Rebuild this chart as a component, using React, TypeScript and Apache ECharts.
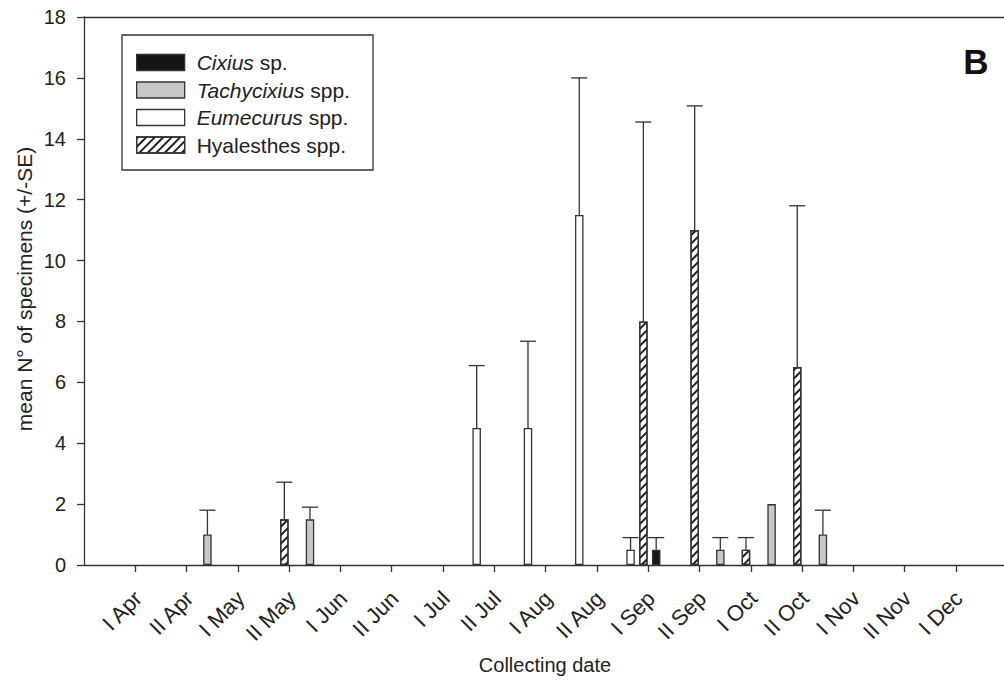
import React, { useEffect, useRef } from "react";
import * as echarts from "echarts";

const tickLabels = ["I Apr", "II Apr", "I May", "II May", "I Jun", "II Jun", "I Jul", "II Jul", "I Aug", "II Aug", "I Sep", "II Sep", "I Oct", "II Oct", "I Nov", "II Nov", "I Dec"];
const n = null;
// 16 bar groups, each lying between two ticks (group g between tick g and tick g+1)
const cixiusMean = [n, n, n, n, n, n, n, n, n, n, n, 0.5, n, n, n, n];
const cixiusSE = [n, n, n, n, n, n, n, n, n, n, n, 0.4, n, n, n, n];
const tachyMean = [n, n, 1.0, n, 1.5, n, n, n, n, n, n, n, 0.5, 2.0, 1.0, n];
const tachySE = [n, n, 0.8, n, 0.4, n, n, n, n, n, n, n, 0.4, 0, 0.8, n];
const eumecMean = [n, n, n, n, n, n, n, 4.5, 4.5, 11.5, 0.5, n, n, n, n, n];
const eumecSE = [n, n, n, n, n, n, n, 2.05, 2.85, 4.5, 0.4, n, n, n, n, n];
const hyalMean = [n, n, n, 1.5, n, n, n, n, n, n, 8.0, 11.0, 0.5, 6.5, n, n];
const hyalSE = [n, n, n, 1.22, n, n, n, n, n, n, 6.55, 4.08, 0.4, 5.3, n, n];
const speciesNames = ["Cixius sp.", "Tachycixius spp.", "Eumecurus spp.", "Hyalesthes spp."];

const FONT = "'Liberation Sans', Arial, sans-serif";
const INK = "#222";
const LINE = "#333";
const UNIT = 51.29; // px per tick interval
const X_MAX = 920 / UNIT;

export default function App() {
  const ref = useRef<HTMLDivElement>(null);
  useEffect(() => {
    if (!ref.current) return;
    const chart = echarts.init(ref.current, undefined, { renderer: "svg" });
    const groups = cixiusMean.length;
    const slots: string[] = [];
    for (let i = 0; i < groups * 4; i++) slots.push("s" + i);
    const means = [cixiusMean, tachyMean, eumecMean, hyalMean];
    const ses = [cixiusSE, tachySE, eumecSE, hyalSE];
    const styles: any[] = [
      { color: "#151515", borderColor: LINE, borderWidth: 1.3 },
      { color: "#c8c8c8", borderColor: LINE, borderWidth: 1.3 },
      { color: "#ffffff", borderColor: LINE, borderWidth: 1.3 },
      {
        color: "#ffffff",
        borderColor: LINE,
        borderWidth: 1.3,
        decal: {
          symbol: "rect",
          symbolSize: 1,
          dashArrayX: [[1, 0]],
          dashArrayY: [1.4, 3.6],
          rotation: -Math.PI / 4,
          color: "#222",
          backgroundColor: "#ffffff",
        },
      },
    ];
    const barSeries = means.map((m, si) => {
      const data: (number | null)[] = new Array(groups * 4).fill(null);
      m.forEach((v, g) => {
        if (v != null) data[g * 4 + si] = v;
      });
      return {
        type: "bar",
        name: speciesNames[si],
        xAxisIndex: 2,
        yAxisIndex: 1,
        data,
        barWidth: 8.5,
        barGap: "-100%",
        itemStyle: styles[si],
        emphasis: { disabled: true },
      };
    });
    const errData: number[][] = [];
    means.forEach((m, si) => {
      m.forEach((v, g) => {
        const se = ses[si][g];
        if (v != null && se != null && se > 0) errData.push([g * 4 + si, v, v + se]);
      });
    });
    const errSeries = {
      type: "custom",
      xAxisIndex: 2,
      yAxisIndex: 1,
      z: 5,
      encode: { x: 0, y: 1 },
      data: errData,
      renderItem: (params: any, api: any) => {
        const b = api.coord([api.value(0), api.value(1)]);
        const t = api.coord([api.value(0), api.value(2)]);
        const st = { stroke: LINE, lineWidth: 1.3 };
        return {
          type: "group",
          children: [
            { type: "line", shape: { x1: b[0], y1: b[1], x2: b[0], y2: t[1] }, style: st },
            { type: "line", shape: { x1: b[0] - 8, y1: t[1], x2: b[0] + 8, y2: t[1] }, style: st },
          ],
        };
      },
    };
    const option: any = {
      animation: false,
      textStyle: { fontFamily: FONT },
      grid: [
        { left: 84, top: 17, width: 920, height: 548 },
        { left: 85.6, top: 17, width: groups * UNIT, height: 548 },
      ],
      xAxis: [
        {
          type: "value",
          gridIndex: 0,
          min: 0,
          max: X_MAX,
          interval: 1,
          position: "bottom",
          axisLine: { show: true, lineStyle: { color: LINE, width: 1.3 } },
          axisTick: { show: true, length: 7, lineStyle: { color: LINE, width: 1.3 } },
          axisLabel: {
            rotate: 45,
            margin: 17,
            align: "right",
            verticalAlign: "top",
            padding: [0, 7, 0, 0],
            fontSize: 22,
            color: INK,
            fontFamily: FONT,
            showMinLabel: false,
            showMaxLabel: false,
            formatter: (v: number) => (Number.isInteger(v) ? tickLabels[v - 1] ?? "" : ""),
          },
          splitLine: { show: false },
        },
        {
          type: "value",
          gridIndex: 0,
          min: 0,
          max: X_MAX,
          position: "top",
          axisLine: { show: true, lineStyle: { color: LINE, width: 1.3 } },
          axisTick: { show: false },
          axisLabel: { show: false },
          splitLine: { show: false },
        },
        {
          type: "category",
          gridIndex: 1,
          data: slots,
          show: false,
        },
      ],
      yAxis: [
        {
          type: "value",
          gridIndex: 0,
          min: 0,
          max: 18,
          interval: 2,
          axisLine: { show: true, lineStyle: { color: LINE, width: 1.3 } },
          axisTick: { show: true, length: 7, lineStyle: { color: LINE, width: 1.3 } },
          axisLabel: { fontSize: 20, color: INK, margin: 18, fontFamily: FONT },
          splitLine: { show: false },
        },
        { type: "value", gridIndex: 1, min: 0, max: 18, show: false },
      ],
      legend: {
        data: speciesNames,
        orient: "vertical",
        left: 136,
        top: 52,
        padding: 0,
        itemWidth: 48,
        itemHeight: 16,
        itemGap: 6.5,
        icon: "rect",
        selectedMode: false,
        itemStyle: { borderColor: "inherit", borderWidth: 1.3 },
        textStyle: {
          fontSize: 21,
          color: INK,
          fontFamily: FONT,
          padding: [0, 0, 0, 7],
          rich: { i: { fontSize: 21, fontStyle: "italic", color: INK, fontFamily: FONT } },
        },
        formatter: (name: string) => {
          if (name.startsWith("Hyalesthes")) return name;
          const parts = name.split(" ");
          return "{i|" + parts[0] + "} " + parts.slice(1).join(" ");
        },
      },
      graphic: [
        {
          type: "rect",
          shape: { x: 122, y: 35, width: 251, height: 135 },
          style: { fill: "none", stroke: LINE, lineWidth: 1.3 },
          z: 10,
        },
        {
          type: "text",
          x: 24,
          y: 289,
          rotation: Math.PI / 2,
          style: {
            text: "mean N° of specimens (+/-SE)",
            fontSize: 21,
            fontFamily: FONT,
            fill: INK,
            align: "center",
            verticalAlign: "middle",
          },
        },
        {
          type: "text",
          x: 545,
          y: 665,
          style: {
            text: "Collecting date",
            fontSize: 20,
            fontFamily: FONT,
            fill: INK,
            align: "center",
            verticalAlign: "middle",
          },
        },
        {
          type: "text",
          x: 976,
          y: 61,
          style: {
            text: "B",
            fontSize: 35,
            fontWeight: "bold",
            fontFamily: FONT,
            fill: "#111",
            align: "center",
            verticalAlign: "middle",
          },
        },
      ],
      series: [...barSeries, errSeries],
    };
    chart.setOption(option);
    return () => chart.dispose();
  }, []);
  return <div ref={ref} style={{ position: "absolute", left: 0, top: 0, width: 1004, height: 684 }} />;
}
